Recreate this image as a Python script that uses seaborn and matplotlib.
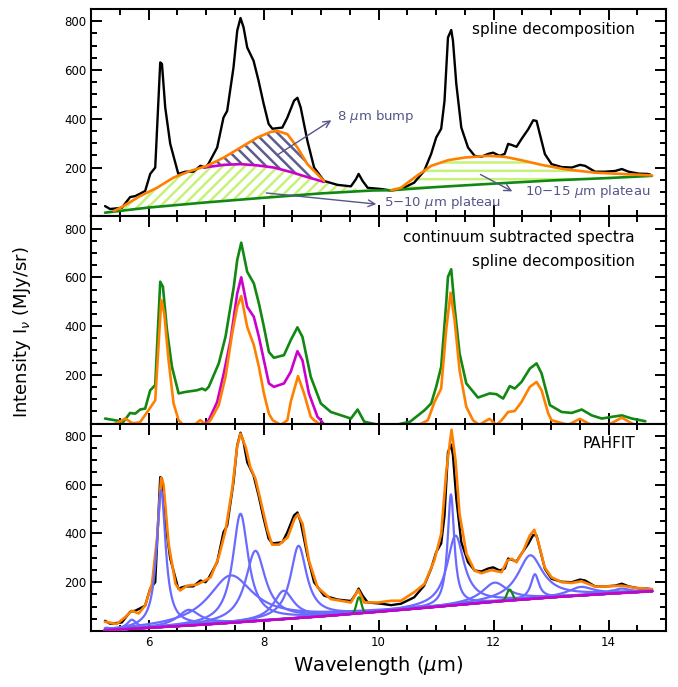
import numpy as np
import pandas as pd
import matplotlib
matplotlib.use("Agg")
import matplotlib.pyplot as plt
from matplotlib.ticker import MultipleLocator, FixedLocator
import seaborn as sns

# ---------------- data ----------------
# observed spectrum (black)
wave_obs = [5.244, 5.332, 5.536, 5.681, 5.768, 5.855, 5.942, 6.03, 6.117, 6.204,
            6.234, 6.291, 6.378, 6.518, 6.64, 6.78, 6.902, 6.99, 7.042, 7.194,
            7.304, 7.368, 7.478, 7.543, 7.6, 7.653, 7.717, 7.827, 7.914, 8.002,
            8.089, 8.154, 8.328, 8.415, 8.531, 8.59, 8.647, 8.764, 8.88, 9.054,
            9.288, 9.52, 9.607, 9.654, 9.724, 9.812, 10.044, 10.218, 10.393, 10.62,
            10.794, 10.916, 11.003, 11.09, 11.148, 11.208, 11.265, 11.295, 11.353, 11.44,
            11.557, 11.672, 11.789, 11.906, 11.993, 12.108, 12.195, 12.255, 12.312, 12.4,
            12.487, 12.604, 12.691, 12.749, 12.806, 12.894, 13.01, 13.185, 13.36, 13.504,
            13.592, 13.766, 13.941, 14.115, 14.232, 14.349, 14.524, 14.668, 14.72]
flux_obs = [42, 30, 35, 79, 83, 93, 104, 174, 200, 631,
            625, 446, 297, 174, 183, 183, 207, 200, 215, 282,
            405, 432, 610, 761, 813, 775, 692, 638, 556, 462,
            379, 359, 364, 405, 474, 486, 446, 309, 200, 145,
            129, 123, 152, 174, 145, 117, 112, 106, 112, 138,
            186, 256, 323, 359, 473, 733, 764, 720, 543, 364,
            282, 248, 244, 256, 261, 248, 256, 297, 293, 285,
            317, 357, 394, 391, 337, 255, 214, 202, 200, 211,
            207, 183, 183, 186, 194, 183, 175, 174, 172]

# spline continuum (green, top panel)
cont_x = [5.244, 6.0, 7.0, 8.0, 9.0, 9.9, 10.22, 11.0, 12.0, 13.0, 14.0, 14.756]
cont_y = [15, 36, 57, 76, 94, 106, 107, 120, 134, 147, 157, 166]

# upper edge of the 5-10 um plateau
p510_x = [5.244, 5.40, 5.51, 5.855, 6.147, 6.436, 6.728, 6.96, 7.31, 7.6,
          7.89, 8.18, 8.47, 8.76, 9.054, 9.3, 9.6, 9.9]
p510_y = [15, 22, 35, 83, 117, 159, 186, 200, 211, 214,
          209, 200, 182, 161, 141, 128, 114, 106]

# magenta spline (top of plateau under 8 um bump)
mag_x = [6.96, 7.31, 7.6, 7.89, 8.18, 8.47, 8.76, 9.054]
mag_y = [200, 211, 214, 209, 200, 182, 161, 141]

# orange spline, 5-9 um part (top of 8 um bump)
or1_x = [5.40, 5.51, 5.855, 6.147, 6.436, 6.728, 7.019, 7.309, 7.6, 7.892,
         8.124, 8.241, 8.415, 8.59, 8.764, 9.054]
or1_y = [22, 35, 83, 117, 159, 186, 207, 241, 282, 323,
         346, 350, 337, 282, 214, 145]

# orange spline, 10-15 um plateau
or2_x = [10.22, 10.39, 10.625, 10.916, 11.208, 11.497, 11.906, 12.195, 12.487, 12.836,
         13.243, 13.766, 14.115, 14.756]
or2_y = [107, 117, 159, 207, 230, 241, 248, 244, 230, 211,
         193, 179, 175, 168]

# middle panel: continuum subtracted spectra
gmid_x = [5.244, 5.564, 5.68, 5.768, 5.855, 5.942, 6.03, 6.117, 6.204, 6.251,
          6.321, 6.408, 6.524, 6.64, 6.845, 6.932, 6.99, 7.048, 7.222, 7.339,
          7.483, 7.543, 7.613, 7.716, 7.832, 7.92, 8.007, 8.094, 8.181, 8.356,
          8.473, 8.59, 8.677, 8.822, 8.997, 9.171, 9.52, 9.637, 9.752, 10.0,
          10.3, 10.548, 10.8, 10.916, 11.003, 11.09, 11.177, 11.208, 11.265, 11.323,
          11.41, 11.527, 11.73, 11.934, 12.05, 12.168, 12.283, 12.37, 12.487, 12.632,
          12.749, 12.836, 12.981, 13.185, 13.36, 13.534, 13.708, 13.883, 14.058, 14.232,
          14.407, 14.64]
gmid_y = [21, 8, 44, 41, 58, 62, 137, 158, 582, 561,
          384, 233, 124, 130, 137, 144, 137, 151, 247, 356,
          561, 671, 742, 623, 575, 493, 397, 294, 270, 281,
          342, 395, 356, 192, 83, 48, 21, 58, 8, -5,
          -5, 8, 55, 83, 151, 233, 493, 602, 633, 479,
          288, 165, 107, 124, 121, 103, 154, 144, 171, 226,
          247, 206, 76, 48, 44, 58, 34, 21, 28, 34,
          21, 10]

mmid_x = [6.95, 7.048, 7.194, 7.309, 7.426, 7.543, 7.613, 7.716, 7.832, 7.92,
          8.007, 8.094, 8.181, 8.356, 8.473, 8.59, 8.677, 8.79, 8.939, 8.997, 9.06]
mmid_y = [-5, 14, 89, 206, 342, 534, 600, 479, 438, 356,
          260, 165, 151, 165, 212, 297, 260, 124, 28, 14, -5]

omid_x = [5.35, 5.45, 5.593, 5.72, 5.85, 6.0, 6.117, 6.222, 6.274, 6.349,
          6.436, 6.524, 6.6, 6.8, 6.9, 7.0, 7.077, 7.222, 7.339, 7.455,
          7.543, 7.613, 7.716, 7.832, 7.92, 8.007, 8.094, 8.16, 8.3, 8.415,
          8.473, 8.6, 8.705, 8.822, 8.88, 9.0, 10.7, 10.859, 10.974, 11.09,
          11.177, 11.253, 11.323, 11.41, 11.527, 11.644, 11.75, 11.93, 12.05, 12.14,
          12.255, 12.37, 12.487, 12.632, 12.749, 12.836, 12.953, 13.01, 13.3, 13.5,
          13.7, 14.0, 14.23, 14.45]
omid_y = [-5, 2, 21, 2, 5, 55, 96, 507, 452, 260,
          83, 14, -5, -5, 15, -5, 14, 76, 192, 370,
          479, 523, 397, 322, 233, 124, 41, 14, -5, 14,
          89, 195, 124, 28, 14, -5, -5, 14, 89, 144,
          384, 537, 425, 219, 69, 14, -5, 20, -5, 14,
          48, 52, 89, 151, 171, 137, 41, 14, -5, 20,
          -5, -5, 25, -5]

# bottom panel: PAHFIT total model (orange)
fit_x = [5.24, 5.45, 5.59, 5.71, 5.83, 5.94, 6.06, 6.15, 6.22, 6.26,
         6.35, 6.47, 6.55, 6.67, 6.84, 6.96, 7.08, 7.22, 7.34, 7.46,
         7.54, 7.6, 7.69, 7.77, 7.86, 7.95, 8.07, 8.15, 8.27, 8.42,
         8.54, 8.6, 8.68, 8.79, 8.94, 9.17, 9.52, 9.65, 9.75, 9.99,
         10.22, 10.39, 10.62, 10.8, 10.97, 11.09, 11.18, 11.27, 11.34, 11.41,
         11.53, 11.67, 11.79, 11.96, 12.14, 12.24, 12.32, 12.4, 12.52, 12.63,
         12.71, 12.78, 12.89, 13.01, 13.19, 13.36, 13.53, 13.77, 14.0, 14.23,
         14.46, 14.76]
fit_y = [38, 29, 56, 83, 72, 104, 193, 384, 628, 604,
         357, 193, 166, 186, 190, 204, 220, 302, 412, 590,
         754, 809, 754, 672, 624, 535, 412, 354, 354, 384,
         460, 478, 439, 289, 179, 131, 117, 168, 117, 117,
         124, 124, 159, 193, 289, 398, 658, 825, 699, 480,
         316, 248, 237, 250, 241, 289, 296, 282, 330, 391,
         415, 364, 261, 220, 200, 197, 204, 182, 183, 186,
         177, 172]

# PAHFIT continuum (magenta)
pcont_x = [5.24, 6.0, 7.0, 8.0, 9.0, 10.0, 11.0, 12.0, 13.0, 14.0, 14.76]
pcont_y = [3, 13, 27, 43, 60, 79, 99, 120, 138, 153, 163]

# PAHFIT dust features (blue): centre, FWHM (um), peak above continuum
drude_center = [5.27, 5.71, 6.22, 6.70, 7.43, 7.60, 7.86, 8.35, 8.61, 10.68,
                11.26, 11.34, 12.02, 12.64, 12.72, 13.52, 14.06, 14.22]
drude_fwhm = [0.18, 0.20, 0.19, 0.47, 0.94, 0.33, 0.42, 0.42, 0.34, 0.21,
              0.14, 0.36, 0.54, 0.53, 0.17, 0.54, 0.23, 0.36]
drude_peak = [10, 37, 560, 64, 194, 444, 288, 116, 296, 8,
              456, 285, 78, 179, 100, 35, 12, 18]

# gas lines (green): centre, FWHM, peak above continuum
line_center = [9.66, 12.28]
line_fwhm = [0.10, 0.11]
line_peak = [66, 45]

# ---------------- styling ----------------
sns.set_theme(style="ticks")
plt.rcParams['font.family'] = ['DejaVu Sans']
plt.rcParams['hatch.linewidth'] = 1.8
for k in ('text.color', 'axes.labelcolor', 'xtick.color', 'ytick.color', 'axes.edgecolor'):
    plt.rcParams[k] = 'black'

C_BLACK = 'black'
C_ORANGE = '#ff8000'
C_GREEN = '#118811'
C_MAG = '#cc00cc'
C_BLUE = '#6a6aff'
C_HATCH_G = '#c6f27a'
C_HATCH_B = '#5c5c90'
C_ANN = '#55558a'

fig = plt.figure(figsize=(6.78, 6.87), dpi=100)
left, width = 91 / 678, 575 / 678
h = 0.3018
bottoms = [0.6851, 0.3833, 0.0815]
axes = [fig.add_axes([left, b, width, h]) for b in bottoms]
ax_top, ax_mid, ax_bot = axes

for ax in axes:
    ax.set_xlim(5, 15)
    ax.set_ylim(0, 850)
    ax.xaxis.set_major_locator(MultipleLocator(2))
    ax.xaxis.set_minor_locator(MultipleLocator(0.5))
    ax.yaxis.set_major_locator(FixedLocator([200, 400, 600, 800]))
    ax.yaxis.set_minor_locator(MultipleLocator(50))
    ax.tick_params(which='both', direction='in', top=True, right=True,
                   width=1.4, labelsize=8.5, colors='black')
    ax.tick_params(which='major', length=8)
    ax.tick_params(which='minor', length=4)
    for s in ax.spines.values():
        s.set_linewidth(1.5)
        s.set_color('black')
    ax.set_xlabel('')
    ax.set_ylabel('')
for ax in (ax_top, ax_mid):
    ax.tick_params(labelbottom=False)

LW = 1.9

def line(ax, x, y, color, lw=LW, z=3):
    sns.lineplot(x=x, y=y, ax=ax, color=color, linewidth=lw,
                 estimator=None, sort=False, zorder=z)

# ---- top panel ----
cx = np.array(cont_x); cy = np.array(cont_y)
# 5-10 um plateau hatch
m = cx <= 9.9
px = list(p510_x) + list(cx[m][::-1])
py = list(p510_y) + list(cy[m][::-1])
ax_top.fill(px, py, facecolor='none', edgecolor=C_HATCH_G, hatch='///',
            linewidth=0, zorder=1)
# 8 um bump hatch
o1x = np.array(or1_x); o1y = np.array(or1_y)
mm = o1x >= 6.96
bx = list(o1x[mm]) + list(mag_x[::-1])
by = list(o1y[mm]) + list(mag_y[::-1])
ax_top.fill(bx, by, facecolor='none', edgecolor=C_HATCH_B, hatch='\\\\\\',
            linewidth=0, zorder=1)
# 10-15 um plateau hatch
m2 = cx >= 10.22
qx = list(or2_x) + list(cx[m2][::-1])
qy = list(or2_y) + list(cy[m2][::-1])
ax_top.fill(qx, qy, facecolor='none', edgecolor=C_HATCH_G, hatch='--',
            linewidth=0, zorder=1)

line(ax_top, wave_obs, flux_obs, C_BLACK, lw=1.7, z=3)
line(ax_top, cont_x, cont_y, C_GREEN, z=4)
line(ax_top, mag_x, mag_y, C_MAG, z=4)
line(ax_top, or1_x, or1_y, C_ORANGE, z=5)
line(ax_top, or2_x, or2_y, C_ORANGE, z=5)

arrow = dict(arrowstyle='->', color=C_ANN, lw=1.0, mutation_scale=12)
ax_top.annotate('', xy=(9.22, 400), xytext=(8.21, 247), arrowprops=arrow, zorder=6)
ax_top.annotate('', xy=(10.01, 49), xytext=(8.0, 97), arrowprops=arrow, zorder=6)
ax_top.annotate('', xy=(12.37, 97), xytext=(11.73, 177), arrowprops=arrow, zorder=6)
ax_top.text(9.27, 411, '8 $\\mu$m bump', color=C_ANN, fontsize=9.5,
            ha='left', va='center')
ax_top.text(10.10, 56, '5\u221210 $\\mu$m plateau', color=C_ANN, fontsize=9.5,
            ha='left', va='center')
ax_top.text(12.54, 101, '10\u221215 $\\mu$m plateau', color=C_ANN, fontsize=9.5,
            ha='left', va='center')
ax_top.text(0.946, 0.903, 'spline decomposition', transform=ax_top.transAxes,
            ha='right', va='center', fontsize=11, color='black')

# ---- middle panel ----
line(ax_mid, gmid_x, gmid_y, C_GREEN, z=3)
line(ax_mid, mmid_x, mmid_y, C_MAG, z=4)
line(ax_mid, omid_x, omid_y, C_ORANGE, z=5)
ax_mid.text(0.946, 0.900, 'continuum subtracted spectra', transform=ax_mid.transAxes,
            ha='right', va='center', fontsize=11, color='black')
ax_mid.text(0.946, 0.784, 'spline decomposition', transform=ax_mid.transAxes,
            ha='right', va='center', fontsize=11, color='black')

# ---- bottom panel ----
grid = np.linspace(5.24, 14.76, 953)
base = np.interp(grid, pcont_x, pcont_y)

def drude(w, c, fw, pk):
    g = fw / c
    return pk * g ** 2 / ((w / c - c / w) ** 2 + g ** 2)

line(ax_bot, wave_obs, flux_obs, C_BLACK, lw=1.7, z=2)
line(ax_bot, fit_x, fit_y, C_ORANGE, z=3)
for c, fw, pk in zip(drude_center, drude_fwhm, drude_peak):
    line(ax_bot, grid, base + drude(grid, c, fw, pk), C_BLUE, lw=1.6, z=4)
gas = np.zeros_like(grid)
for c, fw, pk in zip(line_center, line_fwhm, line_peak):
    s = fw / 2.3548
    gas += pk * np.exp(-0.5 * ((grid - c) / s) ** 2)
line(ax_bot, grid, base + gas, C_GREEN, lw=1.6, z=5)
line(ax_bot, pcont_x, pcont_y, C_MAG, lw=1.9, z=6)
ax_bot.text(0.946, 0.902, 'PAHFIT', transform=ax_bot.transAxes,
            ha='right', va='center', fontsize=11, color='black')

fig.text(0.557, 0.032, 'Wavelength ($\\mu$m)', ha='center', va='center',
         fontsize=14, color='black')
fig.text(0.033, 0.517, 'Intensity I$_\\nu$ (MJy/sr)', ha='center', va='center',
         rotation=90, fontsize=13, color='black')

fig.savefig('out.png', dpi=100, facecolor='white')
